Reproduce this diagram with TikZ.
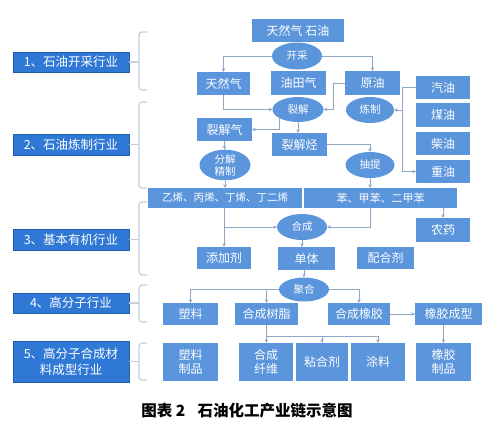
\documentclass[tikz,border=0pt]{standalone}
\usepackage{fontspec}
\newfontfamily\cjk{Noto Sans CJK SC}
\usetikzlibrary{shapes.geometric,arrows.meta}
\definecolor{boxblue}{HTML}{5B95DC}
\definecolor{leftblue}{HTML}{2F78D6}
\definecolor{leftedge}{HTML}{1F5DB0}
\definecolor{linec}{HTML}{8FA6C4}
\definecolor{brackc}{HTML}{C6CED9}
\tikzset{
  box/.style={fill=boxblue, draw=none, text=white, inner sep=0pt, align=center,
    font=\cjk\fontsize{12}{14}\selectfont},
  ell/.style={ellipse, fill=boxblue, draw=none, text=white, inner sep=0pt, align=center,
    font=\cjk\fontsize{10.5}{12.5}\selectfont},
  lbox/.style={fill=leftblue, draw=leftedge, line width=0.8pt, text=white, inner sep=0pt,
    align=center, minimum width=116, font=\cjk\fontsize{12.5}{16}\selectfont},
  conn/.style={draw=linec, line width=0.8pt},
  arr/.style={conn, -{Stealth[length=3.5pt,width=3.5pt]}},
  brk/.style={draw=brackc, line width=1.2pt, rounded corners=3pt},
}
\begin{document}
\begin{tikzpicture}[x=1pt,y=-1pt]
\fill[white] (0,0) rectangle (490,424);
\useasboundingbox (0,0) rectangle (490,424);

% left column
\node[lbox, minimum height=20] (L1) at (71,62) {1、石油开采行业};
\node[lbox, minimum height=21] (L2) at (71,144.5) {2、石油炼制行业};
\node[lbox, minimum height=21] (L3) at (71,239.5) {3、基本有机行业};
\node[lbox, minimum height=20] (L4) at (71,303) {4、高分子行业};
\node[lbox, minimum height=41] (L5) at (71,361.5) {5、高分子合成材\\料成型行业};

% brackets
\draw[brk] (147,32) -- (139,32) -- (139,90) -- (147,90);
\draw[brk] (147,102) -- (139,102) -- (139,188) -- (147,188);
\draw[brk] (147,202) -- (139,202) -- (139,275) -- (147,275);
\draw[brk] (147,285) -- (139,285) -- (139,322) -- (147,322);
\draw[brk] (147,343) -- (139,343) -- (139,380) -- (147,380);
\coordinate (b1) at (139,62);
\coordinate (b2) at (139,144.5);
\coordinate (b3) at (139,239.5);
\coordinate (b4) at (139,303);
\coordinate (b5) at (139,361.5);
\draw[brk] (L1.east) -- (b1);
\draw[brk] (L2.east) -- (b2);
\draw[brk] (L3.east) -- (b3);
\draw[brk] (L4.east) -- (b4);
\draw[brk] (L5.east) -- (b5);

% main boxes
\node[box, minimum width=92, minimum height=23] (top) at (298,30.5) {天然气 石油};
\node[box, minimum width=53, minimum height=23] (tr) at (223.5,83.5) {天然气};
\node[box, minimum width=55, minimum height=24] (ytq) at (298.5,83) {油田气};
\node[box, minimum width=55, minimum height=24] (yy) at (372.5,83) {原油};
\node[box, minimum width=54, minimum height=23] (qy) at (443,87.5) {汽油};
\node[box, minimum width=54, minimum height=24] (my) at (443,115) {煤油};
\node[box, minimum width=54, minimum height=23] (cy) at (443,143.5) {柴油};
\node[box, minimum width=54, minimum height=23] (zy) at (443,171.5) {重油};
\node[box, minimum width=55, minimum height=23] (ljq) at (224.5,129.5) {裂解气};
\node[box, minimum width=55, minimum height=23] (ljt) at (299.5,144.5) {裂解烃};
\node[box, minimum width=154, minimum height=20, font=\cjk\fontsize{10.5}{12}\selectfont] (yx) at (225,198) {乙烯、丙烯、丁烯、丁二烯};
\node[box, minimum width=153, minimum height=20, font=\cjk\fontsize{11}{12}\selectfont] (ben) at (380.5,198) {苯、甲苯、二甲苯};
\node[box, minimum width=54, minimum height=24] (ny) at (443,230) {农药};
\node[box, minimum width=54, minimum height=22] (tjj) at (224,258) {添加剂};
\node[box, minimum width=57, minimum height=23] (dt) at (306.5,258.5) {单体};
\node[box, minimum width=57, minimum height=22] (phj) at (385.5,258) {配合剂};
\node[box, minimum width=55, minimum height=22] (sl) at (190.5,314) {塑料};
\node[box, minimum width=63, minimum height=22] (hcsz) at (266.5,314) {合成树脂};
\node[box, minimum width=62, minimum height=22] (hcxj) at (359,314) {合成橡胶};
\node[box, minimum width=67, minimum height=22] (xjcx) at (448.5,314) {橡胶成型};
\node[box, minimum width=55, minimum height=38] (slzp) at (190.5,362) {塑料\\制品};
\node[box, minimum width=54, minimum height=38] (hcxw) at (266,362) {合成\\纤维};
\node[box, minimum width=52, minimum height=38] (nhj) at (322,362) {粘合剂};
\node[box, minimum width=54, minimum height=38] (tl) at (378,362) {涂料};
\node[box, minimum width=55, minimum height=38] (xjzp) at (443.5,362) {橡胶\\制品};

% ellipses
\node[ell, minimum width=50, minimum height=27] (kc) at (297,56) {开采};
\node[ell, minimum width=51, minimum height=25] (lj) at (298,109.5) {裂解};
\node[ell, minimum width=48, minimum height=26] (lz) at (370,110) {炼制};
\node[ell, minimum width=51, minimum height=30, font=\cjk\fontsize{10.5}{12}\selectfont] (fj) at (225,165) {分解\\精制};
\node[ell, minimum width=49, minimum height=26] (ct) at (370,165) {抽提};
\node[ell, minimum width=50, minimum height=26] (hc) at (302,227) {合成};
\node[ell, minimum width=50, minimum height=24] (jh) at (304,289.5) {聚合};

% connectors
\draw[arr] (kc.west) -| (tr.north);
\draw[arr] (kc.east) -| (yy.north);
\draw[arr] (tr.south) |- (lj.west);
\draw[arr] (yy.west) -- ++(-11,0) |- (lj.east);
\draw[arr] (lj.south west) |- (ljq.east);
\draw[arr] (lj.south) -- (lj.south |- ljt.north);
\coordinate (bus) at (403,110);
\draw[arr] (qy.west) -- ++(-13,0) |- (zy.west);
\draw[arr] (bus) -- (lz.east);
\draw[arr] (ljq.south) -- (ljq.south |- fj.north);
\draw[arr] (fj.south) -- (fj.south |- yx.north);
\draw[arr] (ljt.east) -| (ct.north);
\draw[arr] (ct.south) -- (ct.south |- ben.north);
\draw[arr] (ny.north |- ben.south) -- (ny.north);
\draw[arr] (ct.south |- ben.south) |- (hc.east);
\draw[arr] (tjj.north |- yx.south) -- (tjj.north);
\draw[arr] (tjj.north |- hc.west) -- (hc.west);
\draw[arr] (hc.south) -- (hc.south |- dt.north);
\draw[arr] (jh.north |- dt.south) -- (jh.north);
\draw[arr] (jh.west) -| (sl.north);
\draw[arr] (hcsz.north |- jh.west) -- (hcsz.north);
\draw[arr] (jh.east) -| (hcxj.north);
\draw[arr] (hcxj.east) -- (xjcx.west);
\draw[arr] (xjzp.north |- xjcx.south) -- (xjzp.north);
\coordinate (tb) at (267,336);
\draw[arr] (hcsz.south) -- (hcsz.south |- hcxw.north);
\draw[arr] (hcsz.south |- tb) -| (tl.north);
\draw[arr] (nhj.north |- tb) -- (nhj.north);

% caption
\node[font=\cjk\bfseries\fontsize{15.5}{18}\selectfont, inner sep=0pt] (cap) at (247,411) {图表 2\hspace{0.8em}石油化工产业链示意图};
\end{tikzpicture}
\end{document}
